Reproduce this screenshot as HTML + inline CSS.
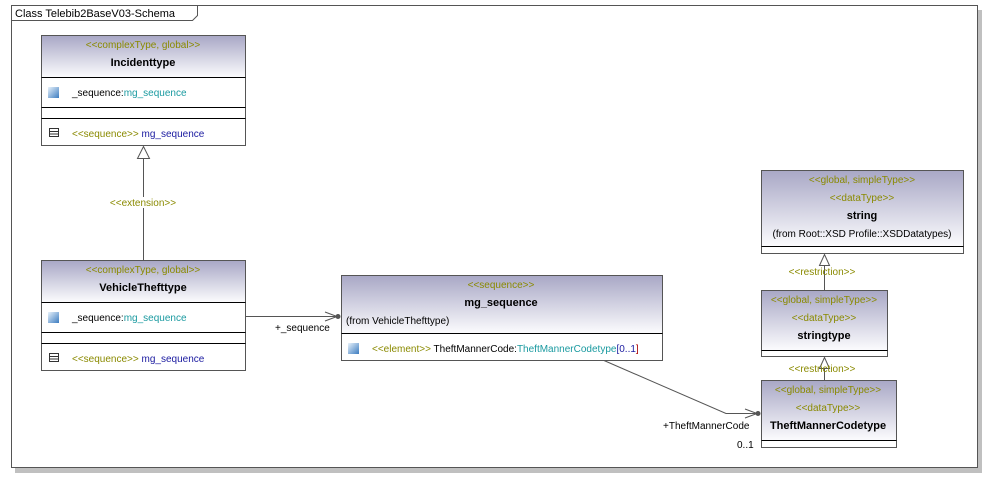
<!DOCTYPE html>
<html><head><meta charset="utf-8"><style>
html,body{margin:0;padding:0;background:#fff;width:1004px;height:488px;overflow:hidden}
svg{display:block}
text{font-family:"Liberation Sans",Arial,sans-serif;font-size:10px}
.st{fill:#8a8a00}
.b{font-weight:bold;fill:#000;font-size:11px}
.k{fill:#000}
.t{fill:#1a9aa0}
.n{fill:#1a1aa0}
</style></head><body>
<svg width="1004" height="488" viewBox="0 0 1004 488">
<defs>
<linearGradient id="g" x1="0" y1="0" x2="0" y2="1">
<stop offset="0" stop-color="#a9a8c6"/><stop offset="1" stop-color="#fbfbfd"/>
</linearGradient>
<linearGradient id="ic" x1="0" y1="0" x2="1" y2="1">
<stop offset="0" stop-color="#e8f2fb"/><stop offset="1" stop-color="#3c7cc0"/>
</linearGradient>
</defs>
<!-- frame -->
<rect x="15" y="10" width="967" height="463" fill="#c0c0c0"/>
<rect x="11.5" y="5.5" width="966" height="462" fill="#fff" stroke="#555"/>
<path d="M11.5 20.5 H192.5 L197.5 15.5 V5.5" fill="none" stroke="#555"/>
<text x="15" y="17" class="k" style="font-size:11px">Class Telebib2BaseV03-Schema</text>

<!-- Incidenttype -->
<rect x="41.5" y="35.5" width="204" height="110" fill="#fff" stroke="#555"/>
<rect x="42" y="36" width="203" height="41" fill="url(#g)"/>
<line x1="41.5" y1="77.5" x2="245.5" y2="77.5" stroke="#000"/>
<line x1="41.5" y1="107.5" x2="245.5" y2="107.5" stroke="#000"/>
<line x1="41.5" y1="118.5" x2="245.5" y2="118.5" stroke="#000"/>
<text x="143" y="48" text-anchor="middle" class="st">&lt;&lt;complexType, global&gt;&gt;</text>
<text x="143" y="66" text-anchor="middle" class="b">Incidenttype</text>
<rect x="48" y="87" width="11" height="11" fill="url(#ic)"/>
<text x="72" y="96"><tspan class="k">_sequence:</tspan><tspan class="t">mg_sequence</tspan></text>
<rect x="49.5" y="128.5" width="9" height="8" fill="none" stroke="#333"/><line x1="49.5" y1="131.5" x2="58.5" y2="131.5" stroke="#333"/><line x1="49.5" y1="134" x2="58.5" y2="134" stroke="#333"/>
<text x="72" y="137"><tspan class="st">&lt;&lt;sequence&gt;&gt; </tspan><tspan class="n">mg_sequence</tspan></text>

<!-- extension -->
<line x1="143.5" y1="158" x2="143.5" y2="260" stroke="#555"/>
<path d="M137.5 158.5 L143.5 146.5 L149.5 158.5 Z" fill="#fff" stroke="#555"/>
<rect x="108" y="197" width="70" height="11" fill="#fff"/>
<text x="143" y="206" text-anchor="middle" class="st">&lt;&lt;extension&gt;&gt;</text>

<!-- VehicleThefttype -->
<rect x="41.5" y="260.5" width="204" height="110" fill="#fff" stroke="#555"/>
<rect x="42" y="261" width="203" height="41" fill="url(#g)"/>
<line x1="41.5" y1="302.5" x2="245.5" y2="302.5" stroke="#000"/>
<line x1="41.5" y1="332.5" x2="245.5" y2="332.5" stroke="#000"/>
<line x1="41.5" y1="343.5" x2="245.5" y2="343.5" stroke="#000"/>
<text x="143" y="273" text-anchor="middle" class="st">&lt;&lt;complexType, global&gt;&gt;</text>
<text x="143" y="291" text-anchor="middle" class="b">VehicleThefttype</text>
<rect x="48" y="312" width="11" height="11" fill="url(#ic)"/>
<text x="72" y="321"><tspan class="k">_sequence:</tspan><tspan class="t">mg_sequence</tspan></text>
<rect x="49.5" y="353.5" width="9" height="8" fill="none" stroke="#333"/><line x1="49.5" y1="356.5" x2="58.5" y2="356.5" stroke="#333"/><line x1="49.5" y1="359" x2="58.5" y2="359" stroke="#333"/>
<text x="72" y="362"><tspan class="st">&lt;&lt;sequence&gt;&gt; </tspan><tspan class="n">mg_sequence</tspan></text>

<!-- assoc to mg_sequence -->
<line x1="245.5" y1="316.5" x2="337" y2="316.5" stroke="#555"/>
<path d="M325 312 L337 316.5 L325 321" fill="none" stroke="#555"/>
<circle cx="338" cy="316.5" r="2.5" fill="#555"/>
<text x="275" y="331" class="k">+_sequence</text>

<!-- mg_sequence -->
<rect x="341.5" y="275.5" width="321" height="85" fill="#fff" stroke="#555"/>
<rect x="342" y="276" width="320" height="57" fill="url(#g)"/>
<line x1="341.5" y1="333.5" x2="662.5" y2="333.5" stroke="#000"/>
<text x="501" y="288" text-anchor="middle" class="st">&lt;&lt;sequence&gt;&gt;</text>
<text x="501" y="306" text-anchor="middle" class="b">mg_sequence</text>
<text x="346" y="324" class="k">(from VehicleThefttype)</text>
<rect x="348" y="343" width="11" height="11" fill="url(#ic)"/>
<text x="372" y="352"><tspan class="st">&lt;&lt;element&gt;&gt; </tspan><tspan class="k">TheftMannerCode:</tspan><tspan class="t">TheftMannerCodetype</tspan><tspan class="n">[0..1</tspan><tspan style="fill:#a00">]</tspan></text>

<!-- assoc to TheftMannerCodetype -->
<path d="M604 360.5 L726 413.5 L757 413.5" fill="none" stroke="#555"/>
<path d="M745 409 L757 413.5 L745 418" fill="none" stroke="#555"/>
<circle cx="758" cy="413.5" r="2.5" fill="#555"/>
<text x="663" y="429" class="k">+TheftMannerCode</text>
<text x="737" y="448" class="k">0..1</text>

<!-- string -->
<rect x="761.5" y="170.5" width="202" height="83" fill="#fff" stroke="#555"/>
<rect x="762" y="171" width="201" height="75" fill="url(#g)"/>
<line x1="761.5" y1="246.5" x2="963.5" y2="246.5" stroke="#000"/>
<text x="862" y="183" text-anchor="middle" class="st">&lt;&lt;global, simpleType&gt;&gt;</text>
<text x="862" y="201" text-anchor="middle" class="st">&lt;&lt;dataType&gt;&gt;</text>
<text x="862" y="219" text-anchor="middle" class="b">string</text>
<text x="862" y="237" text-anchor="middle" class="k">(from Root::XSD Profile::XSDDatatypes)</text>

<!-- restriction 1 -->
<line x1="824.5" y1="265" x2="824.5" y2="290" stroke="#555"/>
<path d="M819.5 265.5 L824.5 254.5 L829.5 265.5 Z" fill="#fff" stroke="#555"/>
<text x="822" y="275" text-anchor="middle" class="st">&lt;&lt;restriction&gt;&gt;</text>

<!-- stringtype -->
<rect x="761.5" y="290.5" width="126" height="66" fill="#fff" stroke="#555"/>
<rect x="762" y="291" width="125" height="59" fill="url(#g)"/>
<line x1="761.5" y1="350.5" x2="887.5" y2="350.5" stroke="#000"/>
<text x="824" y="303" text-anchor="middle" class="st">&lt;&lt;global, simpleType&gt;&gt;</text>
<text x="824" y="321" text-anchor="middle" class="st">&lt;&lt;dataType&gt;&gt;</text>
<text x="824" y="339" text-anchor="middle" class="b">stringtype</text>

<!-- restriction 2 -->
<line x1="824.5" y1="368" x2="824.5" y2="380" stroke="#555"/>
<path d="M819.5 368.5 L824.5 357.5 L829.5 368.5 Z" fill="#fff" stroke="#555"/>
<text x="822" y="372" text-anchor="middle" class="st">&lt;&lt;restriction&gt;&gt;</text>

<!-- TheftMannerCodetype -->
<rect x="761.5" y="380.5" width="135" height="67" fill="#fff" stroke="#555"/>
<rect x="762" y="381" width="134" height="59" fill="url(#g)"/>
<line x1="761.5" y1="440.5" x2="896.5" y2="440.5" stroke="#000"/>
<text x="828" y="393" text-anchor="middle" class="st">&lt;&lt;global, simpleType&gt;&gt;</text>
<text x="828" y="411" text-anchor="middle" class="st">&lt;&lt;dataType&gt;&gt;</text>
<text x="828" y="429" text-anchor="middle" class="b">TheftMannerCodetype</text>
</svg>
</body></html>
